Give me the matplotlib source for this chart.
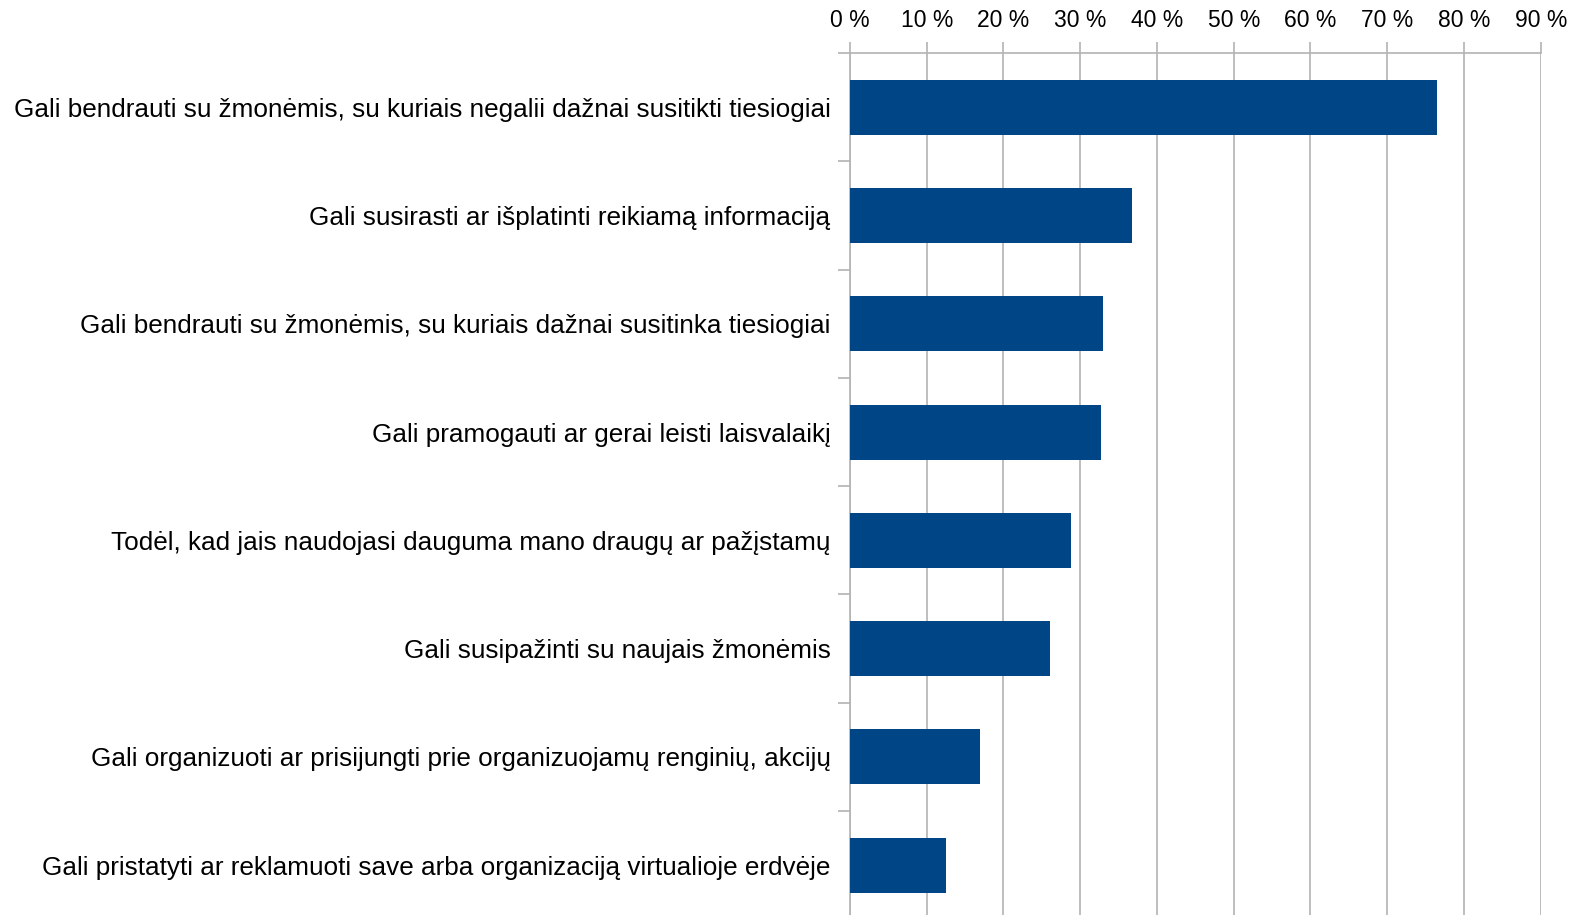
import matplotlib
matplotlib.use("Agg")
import matplotlib.pyplot as plt
import numpy as np

categories = [
    "Gali bendrauti su žmonėmis, su kuriais negalii dažnai susitikti tiesiogiai",
    "Gali susirasti ar išplatinti reikiamą informaciją",
    "Gali bendrauti su žmonėmis, su kuriais dažnai susitinka tiesiogiai",
    "Gali pramogauti ar gerai leisti laisvalaikį",
    "Todėl, kad jais naudojasi dauguma mano draugų ar pažįstamų",
    "Gali susipažinti su naujais žmonėmis",
    "Gali organizuoti ar prisijungti prie organizuojamų renginių, akcijų",
    "Gali pristatyti ar reklamuoti save arba organizaciją virtualioje erdvėje",
]
values = [76.5, 36.8, 33.0, 32.75, 28.8, 26.0, 17.0, 12.5]
xticks = [0, 10, 20, 30, 40, 50, 60, 70, 80, 90]
xticklabels = [f"{t} %" for t in xticks]

plt.rcParams['font.family'] = ['Liberation Sans', 'DejaVu Sans']

W, H = 1580, 915
fig = plt.figure(figsize=(W / 100, H / 100), dpi=100)
left = 850 / W
right = 1540.7 / W
top_px = 53.0
bottom_px = 53.0 + 108.3 * len(categories)
ax = fig.add_axes([left, 1 - bottom_px / H, right - left, (bottom_px - top_px) / H])

n = len(categories)
y = np.arange(n)
ax.barh(y, values, height=0.508, color='#004586', zorder=3)
ax.set_ylim(n - 0.5, -0.5)
ax.set_xlim(0, 90)

ax.xaxis.tick_top()
ax.set_xticks(xticks)
ax.set_xticklabels(xticklabels, fontsize=16.5)
ax.tick_params(axis='x', which='major', length=8, width=1.2, color='#b3b3b3', pad=7)
ax.grid(axis='x', color='#b3b3b3', linewidth=1.2, zorder=0)

ax.set_yticks(y)
ax.set_yticklabels(categories, fontsize=18.8)
ax.tick_params(axis='y', which='major', length=0, pad=14)
ax.set_yticks(np.arange(-0.5, n, 1.0), minor=True)
ax.tick_params(axis='y', which='minor', length=9, width=1.2, color='#b3b3b3')

for s in ['right', 'bottom']:
    ax.spines[s].set_visible(False)
ax.spines['left'].set_color('#b3b3b3')
ax.spines['left'].set_linewidth(1.2)
ax.spines['top'].set_color('#b3b3b3')
ax.spines['top'].set_linewidth(1.2)

fig.savefig("out.png", dpi=100)
